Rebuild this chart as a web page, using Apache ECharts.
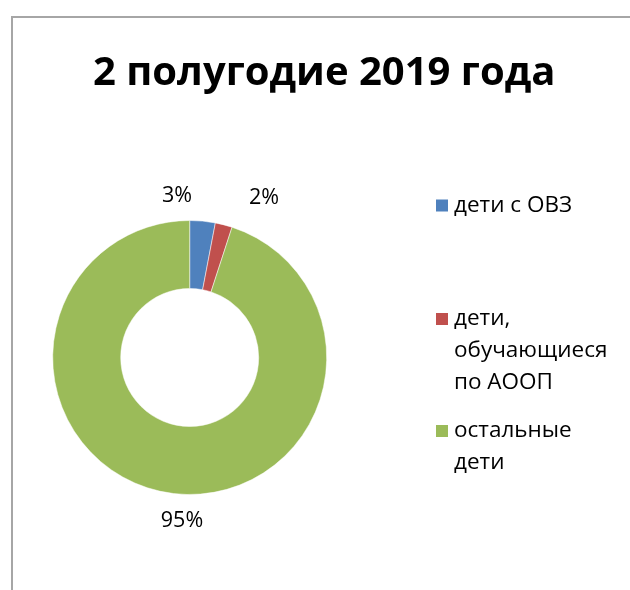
<!DOCTYPE html>
<html>
<head>
<meta charset="utf-8">
<script src="https://cdn.jsdelivr.net/npm/echarts@6/dist/echarts.min.js"></script>
<style>
html,body{margin:0;padding:0;background:#fff;}
#frame{position:absolute;left:11px;top:16px;width:1000px;height:1000px;border:2px solid #a6a6a6;box-sizing:border-box;}
#chart{position:absolute;left:0;top:0;width:630px;height:590px;}
</style>
</head>
<body>
<div id="frame"></div>
<div id="chart"></div>
<script>
const titleText = '2 полугодие 2019 года';
const categories = ['дети с ОВЗ', 'дети,\nобучающиеся\nпо АООП', 'остальные\nдети'];
const values = [3, 2, 95];
const colors = ['#4F81BD', '#C0504D', '#9BBB59'];

const FONT = 'Open Sans';
const LH = 32;
const legendCenters = [205.5, 319, 431];
const labelPos = [[177, 196], [264, 198], [182, 521]];

const chart = echarts.init(document.getElementById('chart'));

const legends = categories.map((name, i) => {
  const lines = name.split('\n').length;
  const total = 2 * lines - 1;
  return {
    orient: 'vertical',
    left: 434,
    top: legendCenters[i] - total * LH / 2,
    padding: 0,
    itemWidth: 14,
    itemHeight: 14,
    icon: 'rect',
    selectedMode: false,
    data: [{ name: name }],
    formatter: s => '\n'.repeat(lines - 1) + s,
    textStyle: {
      fontFamily: FONT,
      fontSize: 22.5,
      color: '#000',
      lineHeight: LH
    }
  };
});

chart.setOption({
  animation: false,
  color: colors,
  title: {
    text: titleText,
    left: 93,
    top: 54,
    padding: 0,
    textStyle: { fontFamily: FONT, fontSize: 40, fontWeight: 'bold', color: '#000' }
  },
  legend: legends,
  series: [{
    type: 'pie',
    center: [189.7, 357.5],
    radius: [69, 137],
    startAngle: 90,
    clockwise: true,
    avoidLabelOverlap: false,
    itemStyle: { borderColor: '#fff', borderWidth: 0.5 },
    label: {
      show: true,
      position: 'outside',
      formatter: p => p.value + '%',
      fontFamily: FONT,
      fontSize: 21.5,
      color: '#000'
    },
    labelLine: { show: false },
    labelLayout: function (params) {
      const p = labelPos[params.dataIndex];
      return { x: p[0], y: p[1], align: 'center', verticalAlign: 'middle' };
    },
    emphasis: { disabled: true },
    data: categories.map((c, i) => ({ name: c, value: values[i] }))
  }]
});
</script>
</body>
</html>
